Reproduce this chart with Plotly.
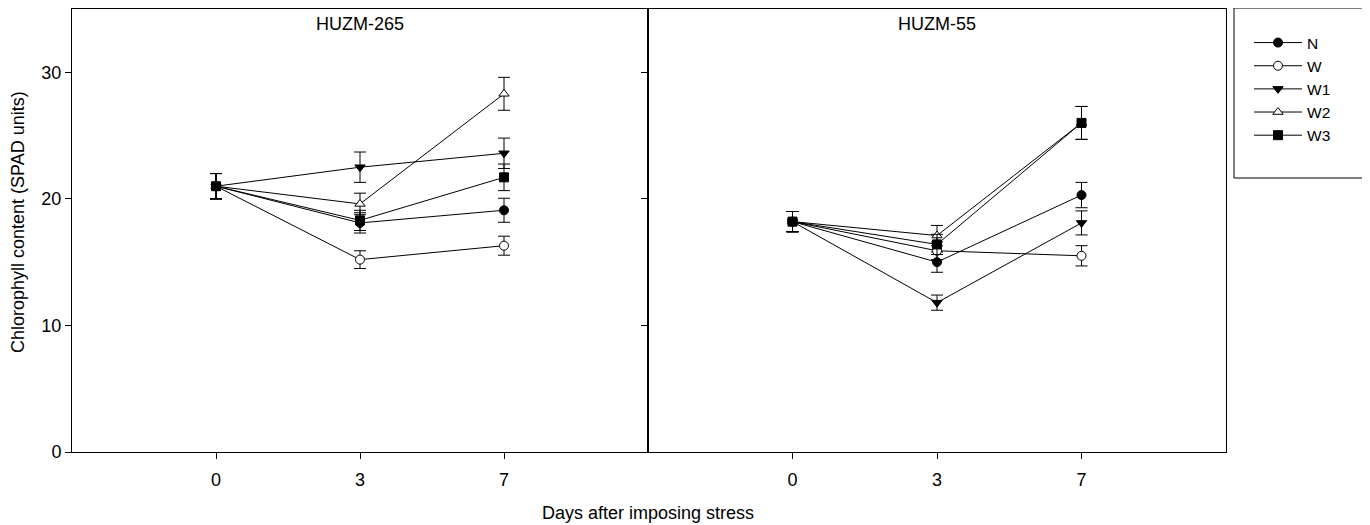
import plotly.graph_objects as go

days = ["0", "3", "7"]
series = ["N", "W", "W1", "W2", "W3"]

# HUZM-265
h265 = {
    "N":  [21.0, 18.1, 19.1],
    "W":  [21.0, 15.2, 16.3],
    "W1": [21.0, 22.5, 23.6],
    "W2": [21.0, 19.6, 28.3],
    "W3": [21.0, 18.3, 21.7],
}
h265_err = {
    "N":  [1.0, 0.8, 0.95],
    "W":  [1.0, 0.7, 0.75],
    "W1": [1.0, 1.2, 1.2],
    "W2": [1.0, 0.85, 1.3],
    "W3": [1.0, 0.8, 1.05],
}
# HUZM-55
h55 = {
    "N":  [18.2, 15.0, 20.3],
    "W":  [18.2, 15.9, 15.5],
    "W1": [18.2, 11.8, 18.1],
    "W2": [18.2, 17.1, 26.0],
    "W3": [18.2, 16.4, 26.0],
}
h55_err = {
    "N":  [0.8, 0.8, 1.0],
    "W":  [0.8, 0.7, 0.8],
    "W1": [0.8, 0.6, 0.95],
    "W2": [0.8, 0.8, 1.3],
    "W3": [0.8, 0.8, 1.3],
}

styles = {
    "N":  dict(symbol="circle", color="black"),
    "W":  dict(symbol="circle", color="white"),
    "W1": dict(symbol="triangle-down", color="black"),
    "W2": dict(symbol="triangle-up", color="white"),
    "W3": dict(symbol="square", color="black"),
}

FONT = "Liberation Sans, Arial, sans-serif"

fig = go.Figure()
for panel, (vals, errs, xa, ya) in enumerate([(h265, h265_err, "x", "y"), (h55, h55_err, "x2", "y2")]):
    for s in series:
        st = styles[s]
        fig.add_trace(go.Scatter(
            x=days, y=vals[s], mode="lines+markers", name=s,
            xaxis=xa, yaxis=ya, showlegend=(panel == 0),
            line=dict(color="black", width=1),
            marker=dict(symbol=st["symbol"], color=st["color"], size=9,
                        line=dict(color="black", width=1)),
            error_y=dict(type="data", array=errs[s], color="black", thickness=1, width=6),
        ))

OFF = 8  # page body offset
W, H = 1370, 525
L, R = 72, 1226      # screen coords of plot area
T, B = 9, 452
split = (648 - L) / (R - L)

def px(x):
    return (x - L) / (R - L)

def py(y):
    return (B - y) / (B - T)

axis_common = dict(showline=True, linecolor="black", linewidth=1, mirror=True,
                   showgrid=False, zeroline=False, ticks="outside", ticklen=6,
                   tickcolor="black", tickfont=dict(family=FONT, size=18, color="black"))

fig.update_layout(
    width=W, height=H,
    margin=dict(l=L - OFF, r=W - (R - OFF), t=T - OFF, b=H - (B - OFF), autoexpand=False),
    plot_bgcolor="white", paper_bgcolor="white",
    font=dict(family=FONT, size=18, color="black"),
    xaxis=dict(domain=[0, split], type="category", range=[-1, 3], ticklabelstandoff=5, **axis_common),
    xaxis2=dict(domain=[split, 1], type="category", range=[-1, 3], anchor="y2", ticklabelstandoff=5, **axis_common),
    yaxis=dict(range=[0, 35], tickvals=[0, 10, 20, 30], anchor="x", **axis_common),
    yaxis2=dict(range=[0, 35], tickvals=[0, 10, 20, 30], anchor="x2", showticklabels=False, **axis_common),
    legend=dict(x=px(1249), y=py(26), xanchor="left", yanchor="top",
                bgcolor="rgba(0,0,0,0)", borderwidth=0, itemwidth=48,
                font=dict(family=FONT, size=15.5), tracegroupgap=0),
    showlegend=True,
)

fig.add_shape(type="rect", xref="paper", yref="paper",
              x0=px(1234), x1=px(1368), y0=py(178), y1=py(8),
              line=dict(color="black", width=1), fillcolor="rgba(0,0,0,0)")

fig.add_annotation(text="HUZM-265", x=1, xref="x", y=py(24), yref="paper", yanchor="middle",
                   showarrow=False, font=dict(family=FONT, size=18))
fig.add_annotation(text="HUZM-55", x=1, xref="x2", y=py(24), yref="paper", yanchor="middle",
                   showarrow=False, font=dict(family=FONT, size=18))
fig.add_annotation(text="Days after imposing stress", x=split, xref="paper", xanchor="center",
                   y=py(513), yref="paper", yanchor="middle", showarrow=False,
                   font=dict(family=FONT, size=18))
fig.add_annotation(text="Chlorophyll content (SPAD units)", x=px(18), xref="paper", xanchor="center",
                   y=py(222), yref="paper", yanchor="middle", textangle=-90, showarrow=False,
                   font=dict(family=FONT, size=18))

fig.write_html("out.html")
